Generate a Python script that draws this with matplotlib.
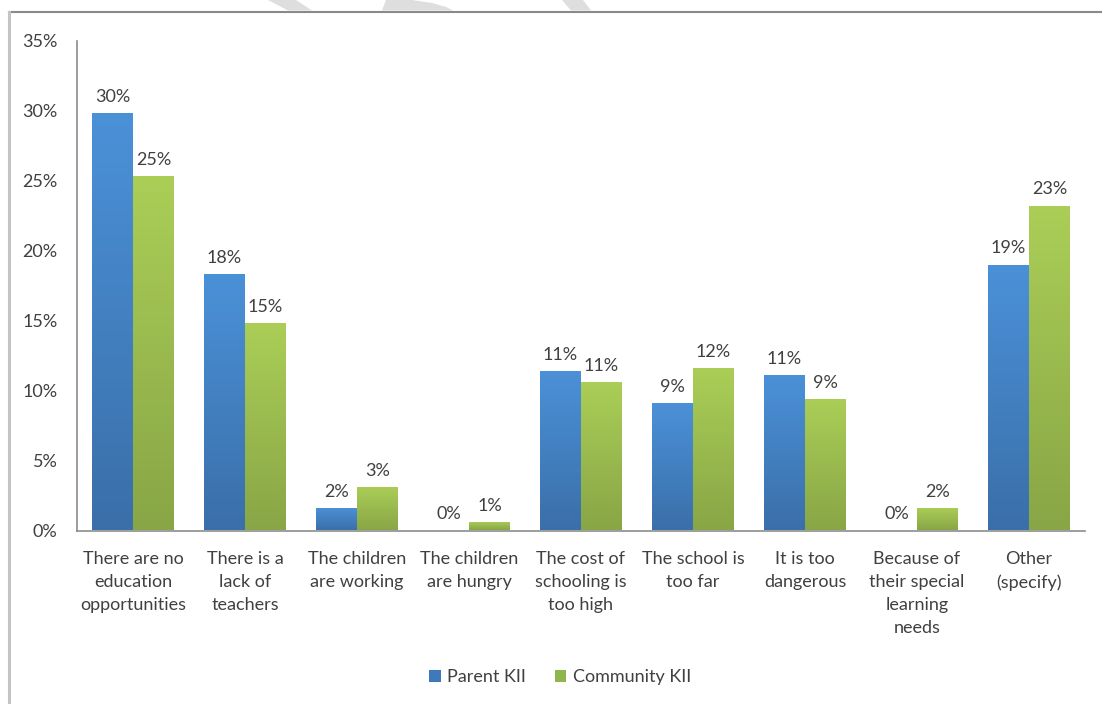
import numpy as np
import matplotlib
matplotlib.use("Agg")
import matplotlib.pyplot as plt
from matplotlib.colors import LinearSegmentedColormap
from matplotlib.patches import Patch, Polygon
from matplotlib.lines import Line2D
from matplotlib.ticker import FuncFormatter

# Reasons children are not in school (% of respondents)
categories = [
    "There are no\neducation\nopportunities",
    "There is a\nlack of\nteachers",
    "The children\nare working",
    "The children\nare hungry",
    "The cost of\nschooling is\ntoo high",
    "The school is\ntoo far",
    "It is too\ndangerous",
    "Because of\ntheir special\nlearning\nneeds",
    "Other\n(specify)",
]
parent_kii = [29.8, 18.3, 1.6, 0.0, 11.4, 9.1, 11.1, 0.0, 19.0]
community_kii = [25.3, 14.8, 3.1, 0.6, 10.6, 11.6, 9.4, 1.6, 23.2]
series_names = ["Parent KII", "Community KII"]
y_ticks = [0, 5, 10, 15, 20, 25, 30, 35]

BLUE_TOP, BLUE_BOTTOM = "#4b91d8", "#3a6fa9"
GREEN_TOP, GREEN_BOTTOM = "#abce57", "#88a646"
TEXT = "#404040"
FONT = ["Lato", "DejaVu Sans"]
FS = 13

plt.rcParams["font.family"] = FONT

W, H = 1102, 704
fig = plt.figure(figsize=(W / 100, H / 100), dpi=100, facecolor="white")
ax = fig.add_axes([77 / W, (H - 530.5) / H, 1008 / W, 490 / H])


def gradient_bars(ax, bars, top, bottom):
    cmap = LinearSegmentedColormap.from_list("bar", [bottom, top])
    grad = np.linspace(0, 1, 256).reshape(-1, 1)
    for b in bars:
        h = b.get_height()
        if h <= 0:
            continue
        x0, w = b.get_x(), b.get_width()
        im = ax.imshow(grad, cmap=cmap, origin="lower", aspect="auto",
                       extent=[x0, x0 + w, 0, h], zorder=2)
        im.set_clip_path(b)
        b.set_facecolor("none")


def value_labels(ax, bars, values):
    for b, v in zip(bars, values):
        ax.annotate(f"{int(v + 0.5)}%", (b.get_x() + b.get_width() / 2, b.get_height()),
                    xytext=(0, 6), textcoords="offset points", ha="center", va="bottom",
                    fontsize=FS, color=TEXT)


x = np.arange(len(categories))
width = 0.366
b1 = ax.bar(x - width / 2, parent_kii, width, color=BLUE_TOP, linewidth=0, zorder=2)
b2 = ax.bar(x + width / 2, community_kii, width, color=GREEN_TOP, linewidth=0, zorder=2)
gradient_bars(ax, b1, BLUE_TOP, BLUE_BOTTOM)
gradient_bars(ax, b2, GREEN_TOP, GREEN_BOTTOM)
value_labels(ax, b1, parent_kii)
value_labels(ax, b2, community_kii)

ax.set_xlim(-0.5, len(categories) - 0.5)
ax.set_ylim(0, 35)
ax.set_yticks(y_ticks)
ax.yaxis.set_major_formatter(FuncFormatter(lambda v, _: f"{v:.0f}%"))
ax.set_xticks(x)
ax.set_xticklabels(categories, linespacing=1.55)
ax.tick_params(axis="y", length=0, pad=14, labelsize=FS, labelcolor=TEXT)
ax.tick_params(axis="x", length=0, pad=14.5, labelsize=FS, labelcolor=TEXT)
for lbl in ax.get_xticklabels():
    lbl.set_verticalalignment("top")

for s in ("top", "right"):
    ax.spines[s].set_visible(False)
ax.spines["left"].set_color("#8c8c8c")
ax.spines["bottom"].set_color("#8c8c8c")
ax.spines["left"].set_linewidth(1.2)
ax.spines["bottom"].set_linewidth(1.2)

handles = [Patch(facecolor="#3d79bb", edgecolor="none"),
           Patch(facecolor="#8fb54c", edgecolor="none")]
fig.legend(handles, series_names, loc="center", bbox_to_anchor=(560 / W, 1 - 677 / H),
           ncol=2, frameon=False, fontsize=FS, handlelength=0.65, handleheight=0.65,
           handletextpad=0.35, columnspacing=1.6, labelcolor=TEXT)

# page frame around the chart
fig.add_artist(Line2D([8.5 / W, 1], [1 - 11.5 / H] * 2, color="#8a8a8a", lw=1.5,
                      transform=fig.transFigure))
fig.add_artist(Line2D([8.5 / W] * 2, [0, 1 - 11.5 / H], color="#c4c4c4", lw=2.2,
                      transform=fig.transFigure))

# faint page watermark poking out above the frame
marks = [
    [(268, 0), (296, 0), (312, 10.5), (288, 10.5)],
    [(382, 10.5), (386, 0), (412, 0), (432, 3), (446, 7), (453, 10.5)],
    [(562, 0), (583, 0), (591, 10.5), (571, 10.5)],
]
for pts in marks:
    fig.add_artist(Polygon([(px / W, 1 - py / H) for px, py in pts], closed=True,
                           facecolor="#dedede", edgecolor="none", transform=fig.transFigure))

fig.savefig("out.png", dpi=100, facecolor="white")
